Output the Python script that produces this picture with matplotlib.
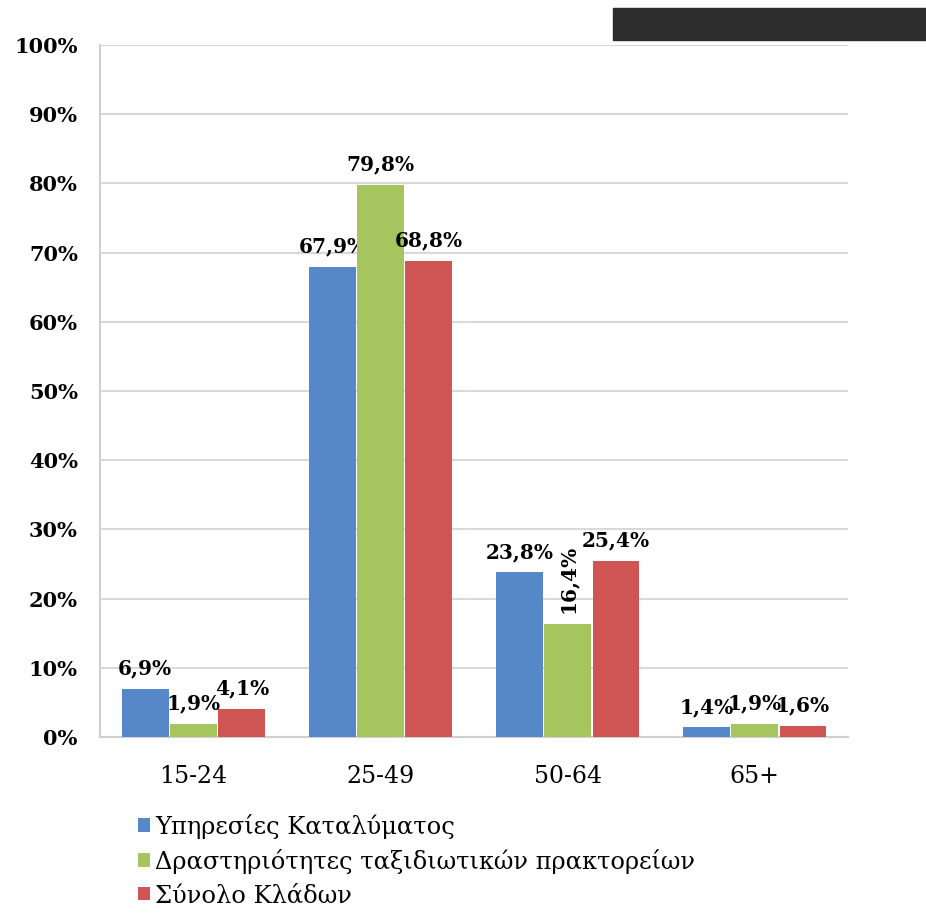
import matplotlib.pyplot as plt
import numpy as np
from matplotlib.patches import Rectangle

# data
ages = ["15-24", "25-49", "50-64", "65+"]
series = ["Υπηρεσίες Καταλύματος",
          "Δραστηριότητες ταξιδιωτικών πρακτορείων",
          "Σύνολο Κλάδων"]
ypiresies = [6.9, 67.9, 23.8, 1.4]
praktoreia = [1.9, 79.8, 16.4, 1.9]
synolo = [4.1, 68.8, 25.4, 1.6]
colors = ["#5688C9", "#A7C55E", "#CF5454"]

plt.rcParams["font.family"] = ["DejaVu Serif"]

fig = plt.figure(figsize=(9.26, 9.16), dpi=100)
ax = fig.add_axes([0.108, 0.1954, 0.808, 0.7556])

x = np.arange(len(ages))
w = 0.25
gap = 0.008
values = [ypiresies, praktoreia, synolo]
for i, (vals, col, name) in enumerate(zip(values, colors, series)):
    pos = x + (i - 1) * (w + gap)
    ax.bar(pos, vals, width=w, color=col, label=name, zorder=3)
    for j, (px, v) in enumerate(zip(pos, vals)):
        txt = f"{v:.1f}%".replace(".", ",")
        # the 16,4% label is rotated in the original
        rot = 90 if (i == 1 and ages[j] == "50-64") else 0
        ax.text(px, v + 1.5, txt, rotation=rot, ha="center", va="bottom",
                fontsize=14.5, fontweight="bold")

ax.set_xlim(-0.5, 3.5)
ax.set_ylim(0, 100)
ax.set_yticks(range(0, 101, 10))
ax.set_yticklabels([f"{t}%" for t in range(0, 101, 10)], fontsize=15, fontweight="bold")
ax.set_xticks(x)
ax.set_xticklabels(ages, fontsize=17)
ax.tick_params(length=0)
ax.tick_params(axis="x", pad=20)
ax.tick_params(axis="y", pad=16)
ax.grid(axis="y", color="#D9D9D9", linewidth=1.5, zorder=0)
for s in ["top", "right"]:
    ax.spines[s].set_visible(False)
ax.spines["left"].set_color("#D0D0D0")
ax.spines["bottom"].set_color("#D0D0D0")
ax.spines["left"].set_linewidth(1.5)
ax.spines["bottom"].set_linewidth(1.5)

fig.legend(loc="upper left", bbox_to_anchor=(0.139, 0.122), frameon=False,
           fontsize=17.4, handlelength=0.5, handleheight=0.5, handletextpad=0.2,
           labelspacing=0.42, borderaxespad=0)

# dark bar at top right
fig.patches.append(Rectangle((613 / 926, 1 - 40 / 916), 313 / 926, 32 / 916,
                             transform=fig.transFigure, color="#2D2D2D"))

fig.savefig("out.png", dpi=100)
